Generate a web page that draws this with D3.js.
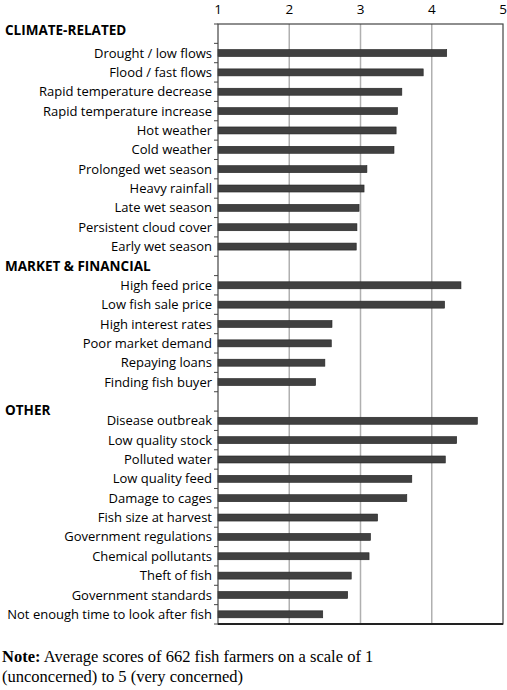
<!DOCTYPE html>
<html>
<head>
<meta charset="utf-8">
<script src="https://cdn.jsdelivr.net/npm/d3@7"></script>
<style>
  body { margin: 0; background: #fff; }
  svg text { font-family: "Open Sans", "Liberation Sans", sans-serif; }
</style>
</head>
<body>
<div id="chart"></div>
<script>
const width = 507;
const height = 690;

// rows top to bottom; headers have no value
const categories = [
  "CLIMATE-RELATED", "Drought / low flows", "Flood / fast flows", "Rapid temperature decrease",
  "Rapid temperature increase", "Hot weather", "Cold weather", "Prolonged wet season",
  "Heavy rainfall", "Late wet season", "Persistent cloud cover", "Early wet season",
  "MARKET & FINANCIAL", "High feed price", "Low fish sale price", "High interest rates",
  "Poor market demand", "Repaying loans", "Finding fish buyer",
  "OTHER", "Disease outbreak", "Low quality stock", "Polluted water", "Low quality feed",
  "Damage to cages", "Fish size at harvest", "Government regulations", "Chemical pollutants",
  "Theft of fish", "Government standards", "Not enough time to look after fish"
];
const values = [
  null, 4.21, 3.88, 3.58, 3.52, 3.50, 3.47, 3.09, 3.05, 2.98, 2.95, 2.94,
  null, 4.41, 4.18, 2.60, 2.59, 2.50, 2.37,
  null, 4.64, 4.35, 4.19, 3.72, 3.65, 3.24, 3.14, 3.12, 2.87, 2.82, 2.47
];
const headers = ["CLIMATE-RELATED", "MARKET & FINANCIAL", "OTHER"];
const ticks = [1, 2, 3, 4, 5];

const margin = { top: 24, left: 218, right: 4, bottom: 66 };

const svg = d3.select("#chart").append("svg")
  .attr("width", width)
  .attr("height", height);

const x = d3.scaleLinear().domain([1, 5]).range([margin.left, width - margin.right]);
const y = d3.scaleBand().domain(d3.range(categories.length))
  .range([margin.top, height - margin.bottom]);

// gridlines
svg.append("g")
  .selectAll("line")
  .data(ticks.slice(1, -1))
  .join("line")
  .attr("x1", d => x(d)).attr("x2", d => x(d))
  .attr("y1", margin.top).attr("y2", height - margin.bottom)
  .attr("stroke", "#b0b0b0").attr("stroke-width", 1.5);

// top tick labels
svg.append("g")
  .selectAll("text")
  .data(ticks)
  .join("text")
  .attr("x", d => x(d))
  .attr("y", 14)
  .attr("text-anchor", "middle")
  .attr("font-size", 13.5)
  .text(d => d);

// bars
const rows = categories.map((c, i) => ({ c, i, v: values[i] }));
svg.append("g")
  .selectAll("rect")
  .data(rows.filter(d => d.v != null))
  .join("rect")
  .attr("x", x(1))
  .attr("y", d => y(d.i) + y.bandwidth() / 2 - 3.5)
  .attr("width", d => x(d.v) - x(1))
  .attr("height", 7)
  .attr("fill", "#404040")
  .attr("stroke", "#222").attr("stroke-width", 0.6);

// frame
svg.append("rect")
  .attr("x", margin.left).attr("y", margin.top)
  .attr("width", x(5) - x(1)).attr("height", height - margin.bottom - margin.top)
  .attr("fill", "none").attr("stroke", "#444").attr("stroke-width", 1.2);
svg.append("line")
  .attr("x1", margin.left).attr("x2", x(5))
  .attr("y1", height - margin.bottom).attr("y2", height - margin.bottom)
  .attr("stroke", "#222").attr("stroke-width", 2);

// category ticks on left axis
svg.append("g")
  .selectAll("line")
  .data(d3.range(categories.length + 1))
  .join("line")
  .attr("x1", margin.left - 4).attr("x2", margin.left)
  .attr("y1", d => margin.top + d * y.step()).attr("y2", d => margin.top + d * y.step())
  .attr("stroke", "#444");

// labels
svg.append("g")
  .selectAll("text")
  .data(rows)
  .join("text")
  .attr("x", d => headers.includes(d.c) ? 5 : margin.left - 6)
  .attr("y", d => y(d.i) + y.bandwidth() / 2 + (d.c === "OTHER" ? 9 : 0) + (d.i === 0 ? -3 : 0))
  .attr("dy", "0.35em")
  .attr("text-anchor", d => headers.includes(d.c) ? "start" : "end")
  .attr("font-size", d => headers.includes(d.c) ? 13.5 : 13)
  .attr("font-weight", d => headers.includes(d.c) ? "bold" : "normal")
  .text(d => d.c);

// note
const note = svg.append("g").attr("font-size", 16.5);
const t1 = note.append("text").attr("x", 2).attr("y", 662).style("font-family", "'Liberation Serif', serif");
t1.append("tspan").attr("font-weight", "bold").text("Note:");
t1.append("tspan").text(" Average scores of 662 fish farmers on a scale of 1");
note.append("text").attr("x", 2).attr("y", 682).style("font-family", "'Liberation Serif', serif")
  .text("(unconcerned) to 5 (very concerned)");
</script>
</body>
</html>
